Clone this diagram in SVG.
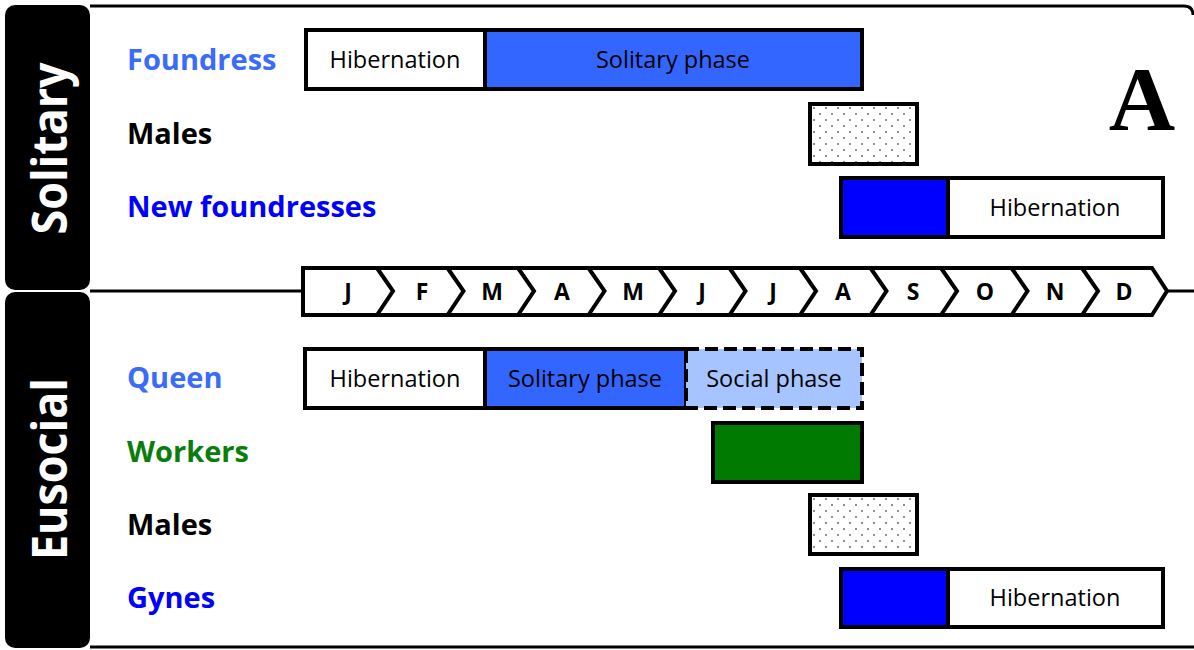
<svg xmlns="http://www.w3.org/2000/svg" width="1194" height="650" viewBox="0 0 1194 650">
<defs>
<pattern id="dots" width="12" height="12" patternUnits="userSpaceOnUse" x="811" y="105">
<rect width="12" height="12" fill="#fff"/>
<circle cx="3" cy="3" r="0.8" fill="#000"/>
<circle cx="9" cy="9" r="0.8" fill="#000"/>
</pattern>
<pattern id="dots2" width="12" height="12" patternUnits="userSpaceOnUse" x="811" y="496">
<rect width="12" height="12" fill="#fff"/>
<circle cx="3" cy="3" r="0.8" fill="#000"/>
<circle cx="9" cy="9" r="0.8" fill="#000"/>
</pattern>
</defs>
<style>
.bar{stroke:#000;stroke-width:4}
.lbl{font-family:"Open Sans","Liberation Sans",sans-serif;font-weight:bold;font-size:29px}
.bt{font-family:"Open Sans","Liberation Sans",sans-serif;font-size:23.5px;fill:#000;text-anchor:middle}
.mo{font-family:"Open Sans","Liberation Sans",sans-serif;font-weight:bold;font-size:23px;fill:#000;text-anchor:middle}
.side{font-family:"Open Sans","Liberation Sans",sans-serif;font-weight:bold;font-size:48px;fill:#fff;text-anchor:middle}
.ln{stroke:#000;stroke-width:3;fill:none}
</style>
<rect width="1194" height="650" fill="#fff"/>

<g id="frame">
<path class="ln" d="M90 6 H1184 Q1193 6 1193 15"/>
<path class="ln" d="M90 647 H1194"/>
<path class="ln" d="M90 291 H303 M1166 291 H1194"/>
<rect x="5" y="5" width="85" height="285" rx="10" fill="#000"/>
<rect x="5" y="292" width="85" height="356" rx="10" fill="#000"/>
<text class="side" transform="translate(67 148.5) rotate(-90)" textLength="172" lengthAdjust="spacingAndGlyphs">Solitary</text>
<text class="side" transform="translate(67 469) rotate(-90)" textLength="182" lengthAdjust="spacingAndGlyphs">Eusocial</text>
<text x="1142" y="130" font-family="'Liberation Serif',serif" font-weight="bold" font-size="92" text-anchor="middle" fill="#000">A</text>
</g>

<g id="timeline">
<path d="M303 268 H1152 L1167 291 L1152 315 H303 Z" fill="#fff" stroke="#000" stroke-width="4" stroke-linejoin="miter"/>
<path fill="none" stroke="#000" stroke-width="4" d="M377 268 L393 291 L377 315 M447.5 268 L463.5 291 L447.5 315 M518 268 L534 291 L518 315 M588.5 268 L604.5 291 L588.5 315 M659 268 L675 291 L659 315 M729.5 268 L745.5 291 L729.5 315 M800 268 L816 291 L800 315 M870.5 268 L886.5 291 L870.5 315 M941 268 L957 291 L941 315 M1011.5 268 L1027.5 291 L1011.5 315 M1082 268 L1098 291 L1082 315"/>
<text class="mo" x="348" y="300">J</text>
<text class="mo" x="422" y="300">F</text>
<text class="mo" x="492" y="300">M</text>
<text class="mo" x="562" y="300">A</text>
<text class="mo" x="633" y="300">M</text>
<text class="mo" x="702" y="300">J</text>
<text class="mo" x="773" y="300">J</text>
<text class="mo" x="843" y="300">A</text>
<text class="mo" x="913" y="300">S</text>
<text class="mo" x="985" y="300">O</text>
<text class="mo" x="1055" y="300">N</text>
<text class="mo" x="1124" y="300">D</text>
</g>

<g id="foundress">
<text class="lbl" x="127" y="70" fill="#3B6CF6">Foundress</text>
<rect class="bar" x="306" y="30" width="179" height="59" fill="#fff"/>
<rect class="bar" x="485" y="30" width="377" height="59" fill="#3366FF"/>
<text class="bt" x="395" y="68">Hibernation</text>
<text class="bt" x="673" y="68">Solitary phase</text>
</g>

<g id="males-solitary">
<text class="lbl" x="127" y="144" fill="#000">Males</text>
<rect class="bar" x="810" y="104" width="107" height="60" fill="url(#dots)"/>
</g>

<g id="new-foundresses">
<text class="lbl" x="127" y="217" fill="#0000FF">New foundresses</text>
<rect class="bar" x="841" y="178" width="107" height="59" fill="#0000FF"/>
<rect class="bar" x="948" y="178" width="215" height="59" fill="#fff"/>
<text class="bt" x="1055" y="216">Hibernation</text>
</g>

<g id="queen">
<text class="lbl" x="127" y="388" fill="#3B6CF6">Queen</text>
<rect class="bar" x="305" y="349" width="180" height="59" fill="#fff"/>
<rect class="bar" x="485" y="349" width="201" height="59" fill="#3366FF"/>
<rect x="686" y="349" width="176" height="59" fill="#A6C4FF" stroke="#000" stroke-width="4" stroke-dasharray="13 6"/>
<text class="bt" x="395" y="387">Hibernation</text>
<text class="bt" x="585" y="387">Solitary phase</text>
<text class="bt" x="774" y="387">Social phase</text>
</g>

<g id="workers">
<text class="lbl" x="127" y="462" fill="#0A7D0A">Workers</text>
<rect class="bar" x="713" y="423" width="149" height="59" fill="#007A00"/>
</g>

<g id="males-eusocial">
<text class="lbl" x="127" y="535" fill="#000">Males</text>
<rect class="bar" x="810" y="495" width="107" height="59" fill="url(#dots2)"/>
</g>

<g id="gynes">
<text class="lbl" x="127" y="608" fill="#0000FF">Gynes</text>
<rect class="bar" x="841" y="569" width="107" height="58" fill="#0000FF"/>
<rect class="bar" x="948" y="569" width="215" height="58" fill="#fff"/>
<text class="bt" x="1055" y="606">Hibernation</text>
</g>
</svg>
